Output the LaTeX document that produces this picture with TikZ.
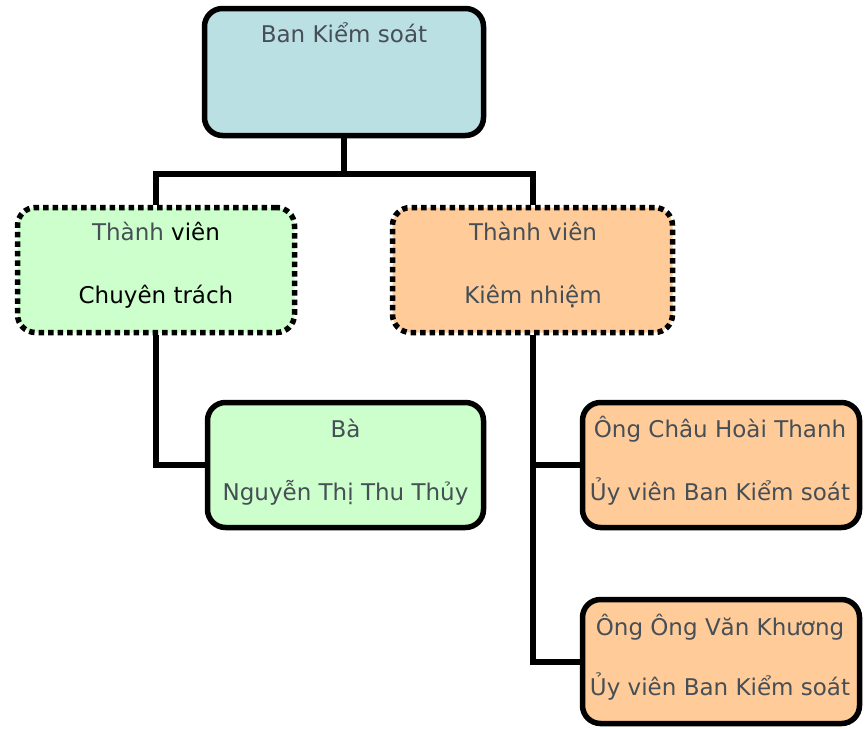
\documentclass[tikz,border=0pt]{standalone}
\usepackage{fontspec}
\setmainfont{DejaVu Sans}
\usetikzlibrary{calc}
\definecolor{topfill}{HTML}{BBE0E3}
\definecolor{greenfill}{HTML}{CCFFCC}
\definecolor{orangefill}{HTML}{FFCC99}
\definecolor{txtgray}{HTML}{464E56}
\tikzset{
  box/.style={draw=black, line width=5.5pt, rounded corners=18pt, rectangle, inner sep=0pt},
  dotbox/.style={box, dash pattern=on 5.5pt off 4pt},
  lbl/.style={anchor=base, inner sep=0pt, font=\fontsize{23}{26}\selectfont, text=txtgray},
  conn/.style={draw=black, line width=6pt}
}
\begin{document}
\begin{tikzpicture}[x=1pt,y=-1pt]
\useasboundingbox (0,0) rectangle (866,728);
% boxes
\node[box, fill=topfill, minimum width=279pt, minimum height=127pt] (top) at (344,72) {};
\node[dotbox, fill=greenfill, minimum width=277pt, minimum height=125pt] (left) at (156,270) {};
\node[dotbox, fill=orangefill, minimum width=280pt, minimum height=125pt] (right) at (532.5,270) {};
\node[box, fill=greenfill, minimum width=276pt, minimum height=125pt] (ba) at (345.5,465) {};
\node[box, fill=orangefill, minimum width=277pt, minimum height=125pt] (chau) at (721,465) {};
\node[box, fill=orangefill, minimum width=277pt, minimum height=124pt] (ong) at (721,661.5) {};
% connectors
\coordinate (split) at ($(top.south)+(0,36)$);
\draw[conn] (top.south) -- (split) -| (left.north);
\draw[conn] (split) -| (right.north);
\draw[conn] (left.south) |- (ba.west);
\draw[conn] (right.south) |- (chau.west);
\draw[conn] (right.south) |- (ong.west);
% labels
\node[lbl] (t1) at (344,42) {Ban Kiểm soát};
\node[lbl] (l1) at (156,240) {Thành \textcolor{black}{viên}};
\node[lbl, text=black] (l2) at (156,303) {Chuyên trách};
\node[lbl] (r1) at (533,240) {Thành viên};
\node[lbl] (r2) at (533,303) {Kiêm nhiệm};
\node[lbl] (b1) at (345.5,437) {Bà};
\node[lbl] (b2) at (345.5,500) {Nguyễn Thị Thu Thủy};
\node[lbl] (c1) at (720,437) {Ông Châu Hoài Thanh};
\node[lbl] (c2) at (720,500) {Ủy viên Ban Kiểm soát};
\node[lbl] (o1) at (720,635) {Ông Ông Văn Khương};
\node[lbl] (o2) at (720,695) {Ủy viên Ban Kiểm soát};
\end{tikzpicture}
\end{document}
